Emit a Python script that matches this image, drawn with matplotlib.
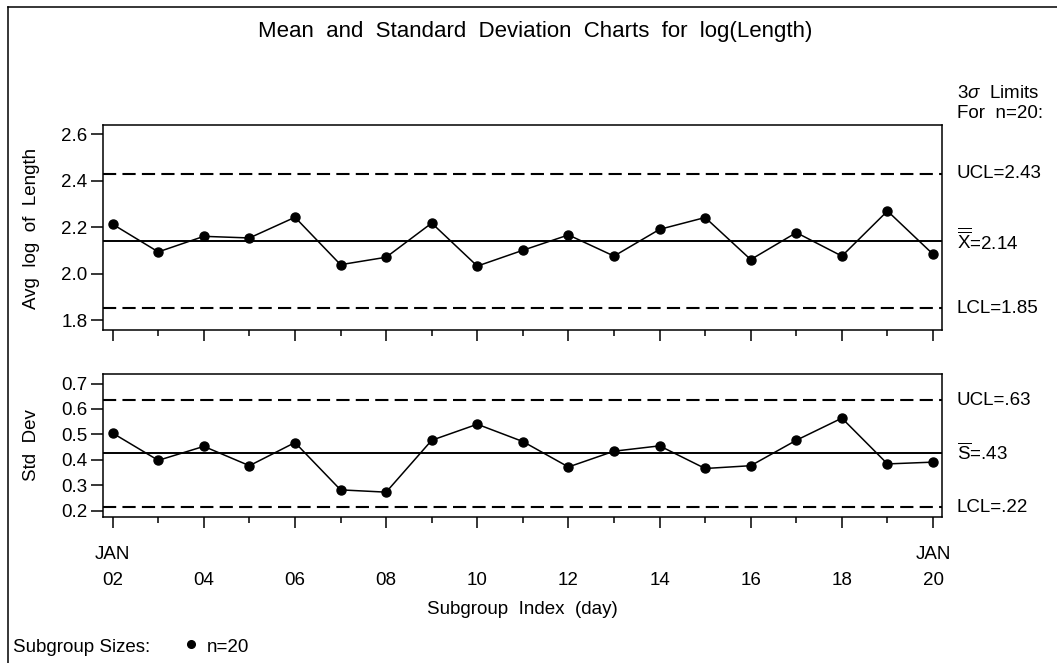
import matplotlib
matplotlib.use("Agg")
import matplotlib.pyplot as plt
from matplotlib.transforms import blended_transform_factory
from matplotlib.ticker import FormatStrFormatter, FixedLocator

# ---- data ----
days = list(range(2, 21))
means = [2.212, 2.093, 2.160, 2.153, 2.242, 2.038, 2.070, 2.217, 2.032, 2.100,
         2.166, 2.075, 2.190, 2.241, 2.060, 2.176, 2.075, 2.269, 2.083]
stds = [0.505, 0.398, 0.453, 0.377, 0.468, 0.282, 0.273, 0.477, 0.540, 0.472,
        0.372, 0.434, 0.455, 0.366, 0.377, 0.477, 0.564, 0.384, 0.391]
x_limits = [2.43, 2.14, 1.85]   # UCL, center, LCL
s_limits = [0.635, 0.426, 0.214]
x_limit_labels = ["UCL=2.43", r"$\overline{\overline{\mathrm{X}}}$=2.14", "LCL=1.85"]
s_limit_labels = ["UCL=.63", r"$\overline{\mathrm{S}}$=.43", "LCL=.22"]
x_yticks = [1.8, 2.0, 2.2, 2.4, 2.6]
s_yticks = [0.2, 0.3, 0.4, 0.5, 0.6, 0.7]
xtick_major = [2, 4, 6, 8, 10, 12, 14, 16, 18, 20]
xtick_labels = ["02", "04", "06", "08", "10", "12", "14", "16", "18", "20"]

plt.rcParams['font.family'] = ['Liberation Sans', 'DejaVu Sans']
plt.rcParams['mathtext.fontset'] = 'custom'
plt.rcParams['mathtext.rm'] = 'Liberation Sans'
plt.rcParams['mathtext.it'] = 'Liberation Sans:italic'
plt.rcParams['lines.scale_dashes'] = False

W, H = 1057, 663
fig = plt.figure(figsize=(W / 100, H / 100), dpi=100)

def rect(l, t, r, b):
    return [l / W, 1 - b / H, (r - l) / W, (b - t) / H]

ax1 = fig.add_axes(rect(103.3, 125, 941.7, 330))
ax2 = fig.add_axes(rect(103.3, 374, 941.7, 516.7))

FS = 13.5
lw_sp = 1.1

def style(ax, yticks, fmt):
    ax.set_xlim(1.794, 20.19)
    for s in ax.spines.values():
        s.set_linewidth(lw_sp)
    ax.set_yticks(yticks)
    ax.yaxis.set_major_formatter(FormatStrFormatter(fmt))
    ax.tick_params(axis='y', direction='out', length=8.5, width=lw_sp,
                   labelsize=FS, pad=3)
    ax.xaxis.set_major_locator(FixedLocator(xtick_major))
    ax.xaxis.set_minor_locator(FixedLocator([d for d in days if d % 2 == 1]))
    ax.tick_params(axis='x', which='major', direction='out', length=8, width=lw_sp)
    ax.tick_params(axis='x', which='minor', direction='out', length=4.5, width=lw_sp)

def draw(ax, vals, lims, labels):
    ax.axhline(lims[0], color='black', lw=1.5, dashes=(9.5, 4.5))
    ax.axhline(lims[1], color='black', lw=1.4)
    ax.axhline(lims[2], color='black', lw=1.5, dashes=(9.5, 4.5))
    ax.plot(days, vals, color='black', lw=1.1, marker='o', markersize=6.5,
            clip_on=False, zorder=3)
    tr = blended_transform_factory(fig.transFigure, ax.transData)
    for v, lab in zip(lims, labels):
        ax.text(957 / W, v, lab, transform=tr, fontsize=FS, ha='left',
                va='center')

draw(ax1, means, x_limits, x_limit_labels)
draw(ax2, stds, s_limits, s_limit_labels)
style(ax1, x_yticks, '%.1f')
style(ax2, s_yticks, '%.1f')
ax1.set_ylim(1.757, 2.639)
ax2.set_ylim(0.1765, 0.7375)
ax1.set_xticklabels([])
ax2.set_xticklabels(xtick_labels)
ax2.tick_params(axis='x', which='major', labelsize=FS, pad=31.5)

for d in (2, 20):
    ax2.annotate("JAN", xy=(d, 0), xycoords=('data', 'axes fraction'),
                 xytext=(0, -37.5), textcoords='offset pixels',
                 ha='center', va='center', fontsize=FS)

fig.text(32 / W, 1 - 228 / H, "Avg  log  of  Length", rotation=90,
         ha='center', va='center', fontsize=FS)
fig.text(32 / W, 1 - 445 / H, "Std  Dev", rotation=90,
         ha='center', va='center', fontsize=FS)
fig.text(522 / W, 1 - 609 / H, "Subgroup  Index  (day)", ha='center',
         va='center', fontsize=FS)
fig.text(535 / W, 1 - 31 / H,
         "Mean  and  Standard  Deviation  Charts  for  log(Length)",
         ha='center', va='center', fontsize=16)
fig.text(957 / W, 1 - 93 / H, r"3$\sigma$  Limits", ha='left', va='center',
         fontsize=FS)
fig.text(957 / W, 1 - 113 / H, "For  n=20:", ha='left', va='center',
         fontsize=FS)
fig.text(13 / W, 1 - 648 / H, "Subgroup Sizes:", ha='left', va='center',
         fontsize=FS)
fig.text(207 / W, 1 - 648 / H, "n=20", ha='left', va='center', fontsize=FS)
fig.lines.append(plt.Line2D([191 / W], [1 - 644 / H], marker='o', markersize=5.5,
                            color='black', transform=fig.transFigure))

# outer frame (top and left edges)
fig.lines.append(plt.Line2D([8 / W, 1.0], [1 - 7 / H, 1 - 7 / H], color='black',
                            lw=1.1, transform=fig.transFigure))
fig.lines.append(plt.Line2D([8 / W, 8 / W], [1 - 7 / H, 0.0], color='black',
                            lw=1.1, transform=fig.transFigure))

fig.savefig("out.png", dpi=100)
